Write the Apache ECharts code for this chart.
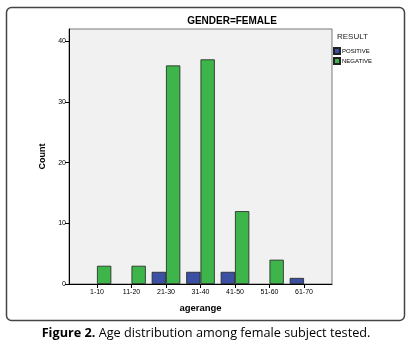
<!DOCTYPE html>
<html>
<head>
<meta charset="utf-8">
<script src="https://cdn.jsdelivr.net/npm/echarts@6/dist/echarts.min.js"></script>
<style>html,body{margin:0;padding:0;background:#fff}#c{width:412px;height:348px}</style>
</head>
<body>
<div id="c"></div>
<script>
var categories = ['1-10','11-20','21-30','31-40','41-50','51-60','61-70'];
var positive = [0, 0, 2, 2, 2, 0, 1];
var negative = [3, 3, 36, 37, 12, 4, 0];
var yTicks = [0, 10, 20, 30, 40];
var chartTitle = 'GENDER=FEMALE';
var legendTitle = 'RESULT';
var seriesNames = ['POSITIVE', 'NEGATIVE'];
var xName = 'agerange';
var yName = 'Count';
var captionBold = 'Figure 2.';
var captionRest = ' Age distribution among female subject tested.';

function hideZero(arr){ return arr.map(function(v){ return v === 0 ? '-' : v; }); }

var chart = echarts.init(document.getElementById('c'), null, {renderer: 'canvas'});
var F = 'Arial, "Liberation Sans", sans-serif';
var option = {
  animation: false,
  backgroundColor: '#fff',
  grid: [
    {left: 69, top: 29, width: 263, height: 255, show: true, backgroundColor: '#f1f1f1', borderColor: '#777', borderWidth: 1},
    {left: 79.75, top: 29, width: 241.5, height: 255}
  ],
  xAxis: [
    {gridIndex: 0, type: 'value', min: 0, max: 1, axisLine: {show: true, lineStyle: {color: '#000', width: 1}}, axisTick: {show: false}, axisLabel: {show: false}, splitLine: {show: false}},
    {gridIndex: 1, type: 'category', data: categories, axisLine: {show: false}, axisTick: {show: true, alignWithLabel: true, length: 4, lineStyle: {color: '#000'}},
     axisLabel: {fontSize: 7, color: '#000', fontFamily: F, margin: 5},
     name: xName, nameLocation: 'middle', nameGap: 19, nameTextStyle: {fontSize: 9.5, fontWeight: 'bold', color: '#000', fontFamily: F}}
  ],
  yAxis: [
    {gridIndex: 0, type: 'value', min: 0, max: 42, interval: 10, axisLine: {show: true, lineStyle: {color: '#000'}}, axisTick: {show: true, length: 4, lineStyle: {color: '#000'}},
     axisLabel: {fontSize: 7, color: '#000', fontFamily: F, margin: 3, showMaxLabel: false, formatter: function(v){return yTicks.indexOf(v) >= 0 ? String(v) : '';}},
     splitLine: {show: false},
     name: yName, nameLocation: 'middle', nameGap: 20, nameRotate: 90, nameTextStyle: {fontSize: 9, fontWeight: 'bold', color: '#000', fontFamily: F}},
    {gridIndex: 1, type: 'value', min: 0, max: 42, show: false, splitLine: {show: false}}
  ],
  legend: {
    orient: 'vertical', left: 333, top: 47, padding: 0, itemWidth: 6, itemHeight: 6, itemGap: 2,
    data: seriesNames.map(function(n){return {name: n, icon: 'rect'};}),
    textStyle: {fontSize: 6, lineHeight: 6, color: '#000', fontFamily: F, padding: [0,0,0,-3]}
  },
  series: [
    {name: seriesNames[0], type: 'bar', xAxisIndex: 1, yAxisIndex: 1, data: hideZero(positive), barWidth: 14.3, barGap: '0%',
     itemStyle: {color: '#3b4fa3', borderColor: '#222', borderWidth: 0.8}},
    {name: seriesNames[1], type: 'bar', xAxisIndex: 1, yAxisIndex: 1, data: hideZero(negative), barWidth: 14.3, barGap: '0%',
     itemStyle: {color: '#3db54a', borderColor: '#222', borderWidth: 0.8}}
  ],
  graphic: [
    {type: 'rect', shape: {x: 6.5, y: 7.5, width: 398, height: 313, r: 5}, style: {fill: 'none', stroke: '#444', lineWidth: 1.5}, z: -10},
    {type: 'text', x: 232, y: 21, style: {text: chartTitle, font: 'bold 10px ' + F, fill: '#000', textAlign: 'center', textVerticalAlign: 'middle'}},
    {type: 'text', x: 337, y: 37, style: {text: legendTitle, font: '8px ' + F, fill: '#222', textAlign: 'left', textVerticalAlign: 'middle'}},
    {type: 'text', x: 206, y: 333, style: {
      text: '{b|' + captionBold + '}{n|' + captionRest + '}',
      textAlign: 'center', textVerticalAlign: 'middle',
      rich: {b: {font: 'bold 12.7px "Open Sans", sans-serif', fill: '#000'}, n: {font: '12.7px "Open Sans", sans-serif', fill: '#000'}}
    }}
  ]
};
chart.setOption(option);
</script>
</body>
</html>
